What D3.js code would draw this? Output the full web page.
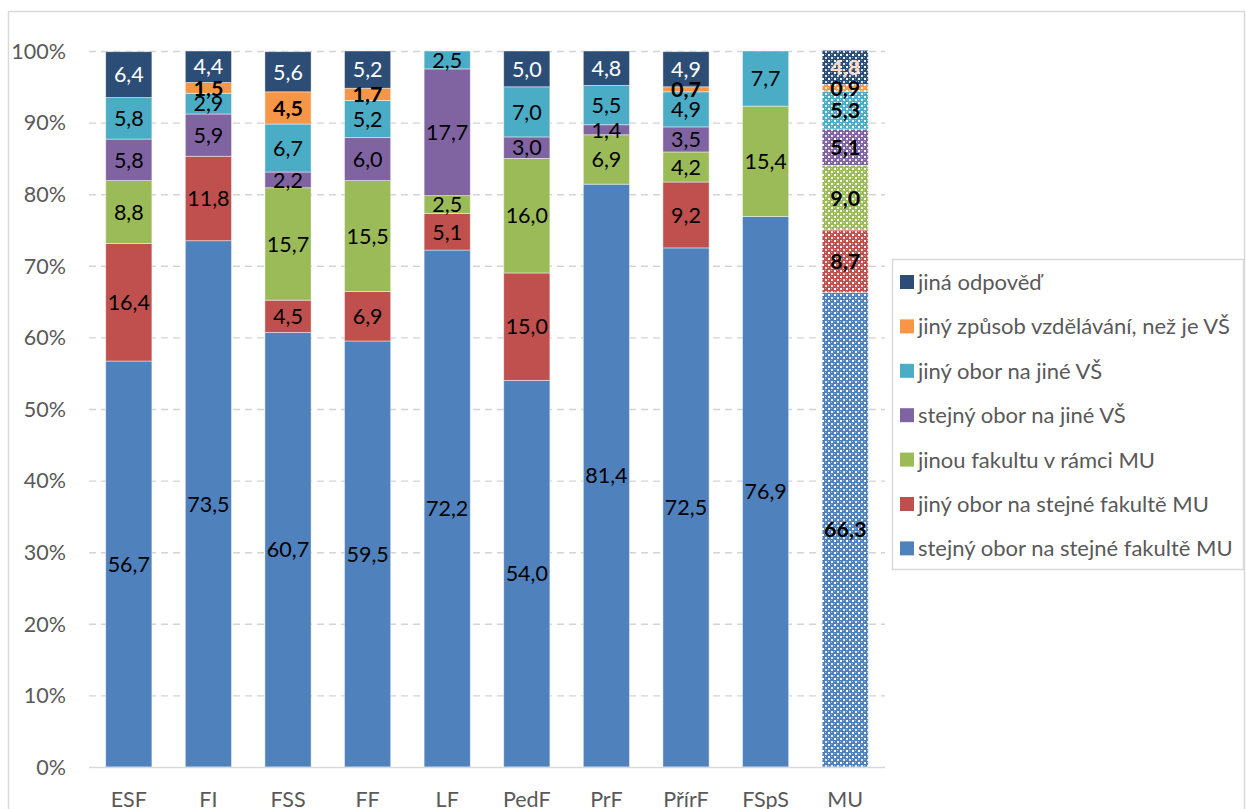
<!DOCTYPE html>
<html>
<head>
<meta charset="utf-8">
<script src="https://cdn.jsdelivr.net/npm/d3@7"></script>
<style>
  html, body { margin: 0; padding: 0; background: #fff; }
  svg { display: block; }
</style>
</head>
<body>
<svg id="chart" width="1246" height="809"></svg>
<script>
// Faculties (x categories)
const categories = ["ESF", "FI", "FSS", "FF", "LF", "PedF", "PrF", "PřírF", "FSpS", "MU"];

// Series, stacked bottom to top (percent of respondents)
const seriesNames = [
  "stejný obor na stejné fakultě MU",
  "jiný obor na stejné fakultě MU",
  "jinou fakultu v rámci MU",
  "stejný obor na jiné VŠ",
  "jiný obor na jiné VŠ",
  "jiný způsob vzdělávání, než je VŠ",
  "jiná odpověď"
];
const sameFieldSameFaculty  = [56.7, 73.5, 60.7, 59.5, 72.2, 54.0, 81.4, 72.5, 76.9, 66.3];
const otherFieldSameFaculty = [16.4, 11.8, 4.5, 6.9, 5.1, 15.0, 0, 9.2, 0, 8.7];
const otherFacultyMU        = [8.8, 0, 15.7, 15.5, 2.5, 16.0, 6.9, 4.2, 15.4, 9.0];
const sameFieldOtherUni     = [5.8, 5.9, 2.2, 6.0, 17.7, 3.0, 1.4, 3.5, 0, 5.1];
const otherFieldOtherUni    = [5.8, 2.9, 6.7, 5.2, 2.5, 7.0, 5.5, 4.9, 7.7, 5.3];
const otherEducation        = [0, 1.5, 4.5, 1.7, 0, 0, 0, 0.7, 0, 0.9];
const otherAnswer           = [6.4, 4.4, 5.6, 5.2, 0, 5.0, 4.8, 4.9, 0, 4.8];

const yTicks = [0, 10, 20, 30, 40, 50, 60, 70, 80, 90, 100];

const seriesValues = [sameFieldSameFaculty, otherFieldSameFaculty, otherFacultyMU,
  sameFieldOtherUni, otherFieldOtherUni, otherEducation, otherAnswer];
const colors = ["#4F81BD", "#C0504D", "#9BBB59", "#8064A2", "#4BACC6", "#F79646", "#2C4D75"];
const labelColors = ["#000", "#000", "#000", "#000", "#000", "#000", "#fff"];

const FONT = "Lato, 'Open Sans', sans-serif";
const svg = d3.select("#chart");

// outer frame of the chart area
svg.append("rect").attr("x", 8.5).attr("y", 11.5).attr("width", 1236).attr("height", 830)
  .attr("fill", "#fff").attr("stroke", "#d9d9d9").attr("stroke-width", 1.5);

const plot = { left: 89, right: 885, top: 51, bottom: 767 };

const x = d3.scaleBand().domain(categories).range([plot.left, plot.right]).paddingInner(0.42).paddingOuter(0.21);
const y = d3.scaleLinear().domain([0, 100]).range([plot.bottom, plot.top]);

// patterned fills for the university-wide (MU) column
const defs = svg.append("defs");
colors.forEach((c, i) => {
  const p = defs.append("pattern").attr("id", "pat" + i).attr("patternUnits", "userSpaceOnUse")
    .attr("width", 6).attr("height", 6);
  p.append("rect").attr("width", 6).attr("height", 6).attr("fill", c);
  p.append("rect").attr("x", 0).attr("y", 0).attr("width", 2).attr("height", 2).attr("fill", "#fff");
  p.append("rect").attr("x", 3).attr("y", 3).attr("width", 2).attr("height", 2).attr("fill", "#fff").attr("opacity", 0.85);
  p.append("rect").attr("x", 3).attr("y", 0).attr("width", 1).attr("height", 1).attr("fill", "#fff").attr("opacity", 0.45);
  p.append("rect").attr("x", 0).attr("y", 3).attr("width", 1).attr("height", 1).attr("fill", "#fff").attr("opacity", 0.45);
});

// gridlines
svg.append("g").selectAll("line").data(yTicks.filter(t => t > 0)).join("line")
  .attr("x1", plot.left).attr("x2", plot.right)
  .attr("y1", d => y(d) + 0.5).attr("y2", d => y(d) + 0.5)
  .attr("stroke", "#d4d4d4").attr("stroke-width", 1.4).attr("stroke-dasharray", "7,5");

// stacked data
const rows = categories.map((c, i) => {
  const r = { cat: c };
  seriesNames.forEach((s, j) => { r[s] = seriesValues[j][i]; });
  return r;
});
const stacked = d3.stack().keys(seriesNames)(rows);

const layers = svg.append("g").selectAll("g").data(stacked).join("g");
layers.selectAll("rect").data((d, j) => d.map(p => ({ p, j }))).join("rect")
  .filter(d => d.p[1] - d.p[0] > 0)
  .attr("x", d => x(d.p.data.cat))
  .attr("width", x.bandwidth())
  .attr("y", d => y(d.p[1]))
  .attr("height", d => y(d.p[0]) - y(d.p[1]))
  .attr("fill", d => d.p.data.cat === "MU" ? `url(#pat${d.j})` : colors[d.j])
  .attr("stroke", "#fff").attr("stroke-opacity", 0.55).attr("stroke-width", 0.8);

// x axis baseline
svg.append("line").attr("x1", plot.left).attr("x2", plot.right)
  .attr("y1", plot.bottom + 0.5).attr("y2", plot.bottom + 0.5)
  .attr("stroke", "#d9d9d9").attr("stroke-width", 1.5);

// value labels
const fmt = v => d3.format(".1f")(v).replace(".", ",");
const labels = svg.append("g").attr("font-family", FONT).attr("font-size", 21.5).attr("text-anchor", "middle");
stacked.forEach((layer, j) => {
  layer.forEach(p => {
    const v = p[1] - p[0];
    if (v <= 0) return;
    const isMU = p.data.cat === "MU";
    let fill = labelColors[j];
    if (isMU && j === 6) fill = "#FBDCC8";
    labels.append("text")
      .attr("x", x(p.data.cat) + x.bandwidth() / 2)
      .attr("y", y((p[0] + p[1]) / 2))
      .attr("dy", "0.36em")
      .attr("fill", fill)
      .attr("font-weight", (isMU || j === 5) ? 700 : 400)
      .text(fmt(seriesValues[j][categories.indexOf(p.data.cat)]));
  });
});

// y axis labels
svg.append("g").attr("font-family", FONT).attr("font-size", 21.5).attr("fill", "#595959")
  .attr("text-anchor", "end")
  .selectAll("text").data(yTicks).join("text")
  .attr("x", 66).attr("y", d => y(d)).attr("dy", "0.36em")
  .text(d => d + "%");

// x axis labels
svg.append("g").attr("font-family", FONT).attr("font-size", 21.5).attr("fill", "#595959")
  .attr("text-anchor", "middle")
  .selectAll("text").data(categories).join("text")
  .attr("x", d => x(d) + x.bandwidth() / 2).attr("y", 799).attr("dy", "0.36em")
  .text(d => d);

// legend
const legend = svg.append("g");
legend.append("rect").attr("x", 892.5).attr("y", 259.5).attr("width", 351).attr("height", 310)
  .attr("fill", "#fff").attr("stroke", "#d9d9d9").attr("stroke-width", 1.5);
const legendOrder = d3.range(seriesNames.length).reverse();
const items = legend.selectAll("g.item").data(legendOrder).join("g").attr("class", "item")
  .attr("transform", (d, i) => `translate(900, ${282 + i * 44.4})`);
items.append("rect").attr("x", 0).attr("y", -7).attr("width", 14).attr("height", 14)
  .attr("fill", d => colors[d]);
items.append("text").attr("x", 18).attr("dy", "0.36em")
  .attr("font-family", FONT).attr("font-size", 22).attr("fill", "#595959")
  .text(d => seriesNames[d]);
</script>
</body>
</html>
